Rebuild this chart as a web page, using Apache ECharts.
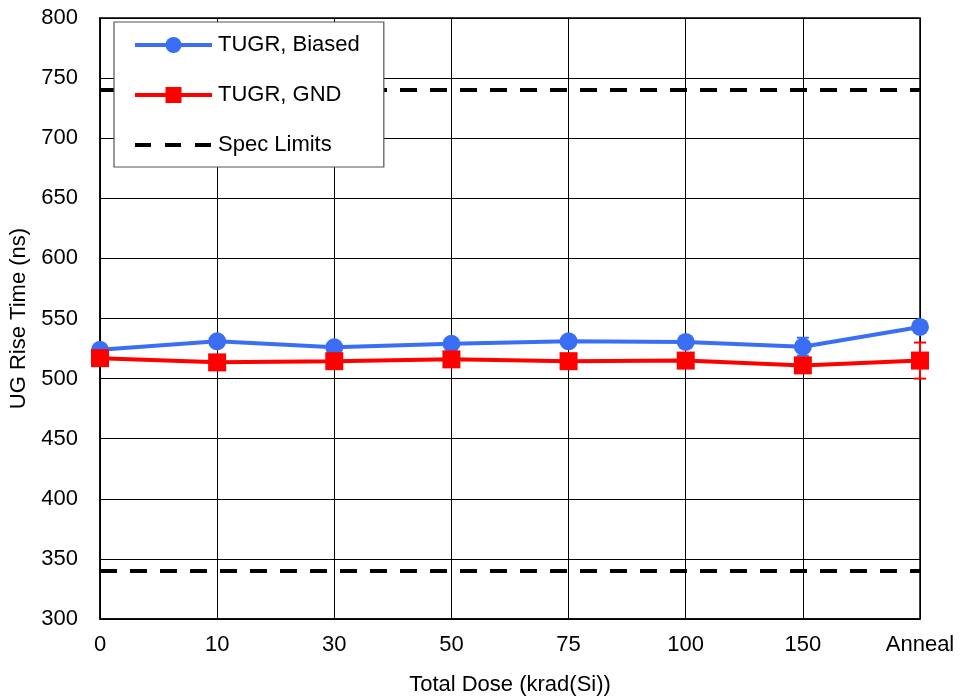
<!DOCTYPE html>
<html><head><meta charset="utf-8">
<script src="https://cdn.jsdelivr.net/npm/echarts@6/dist/echarts.min.js"></script>
<style>html,body{margin:0;padding:0;background:#fff}#c{width:962px;height:699px}</style>
</head><body><div id="c"></div>
<script>
var categories = ['0','10','30','50','75','100','150','Anneal'];
var biased = [524, 531, 526, 529, 531, 530.5, 526.5, 543];
var gnd = [517, 513.5, 514.5, 516, 514.5, 515, 511, 515];
var specUpper = [740,740,740,740,740,740,740,740];
var specLower = [340,340,340,340,340,340,340,340];
var errIndex = [6, 7];
var errLow = [519, 500];
var errHigh = [534, 530];
var errSeriesColor = ['#3a6ff5', '#ff0000'];

var errData = errIndex.map(function(ix, i){ return [ix, errLow[i], errHigh[i], i]; });

var chart = echarts.init(document.getElementById('c'));
var font = 'Liberation Sans, Arial, sans-serif';
chart.setOption({
  animation: false,
  grid: {left: 100, right: 42, top: 18, bottom: 80, show: true, borderColor: '#000', borderWidth: 1.5,
         containLabel: false, outerBoundsMode: 'none'},
  xAxis: {
    type: 'category', data: categories, boundaryGap: false,
    name: 'Total Dose (krad(Si))', nameLocation: 'middle', nameGap: 55,
    nameTextStyle: {fontFamily: font, fontSize: 22, color: '#000'},
    axisLine: {lineStyle: {color: '#000', width: 1.5}},
    axisTick: {show: false},
    axisLabel: {fontFamily: font, fontSize: 22, color: '#000', margin: 15},
    splitLine: {show: true, lineStyle: {color: '#000', width: 1}}
  },
  yAxis: {
    type: 'value', min: 300, max: 800, interval: 50,
    name: 'UG Rise Time (ns)', nameLocation: 'middle', nameGap: 68,
    nameTextStyle: {fontFamily: font, fontSize: 22, color: '#000'},
    axisLine: {show: true, lineStyle: {color: '#000', width: 1.5}},
    axisTick: {show: false},
    axisLabel: {fontFamily: font, fontSize: 22, color: '#000', margin: 22},
    splitLine: {show: true, lineStyle: {color: '#000', width: 1}}
  },
  legend: {
    orient: 'vertical', left: 114, top: 22,
    padding: [12, 24, 11, 19],
    itemGap: 28, itemWidth: 77, itemHeight: 20,
    backgroundColor: '#fff', borderColor: '#555', borderWidth: 1.2,
    lineStyle: {width: 4},
    textStyle: {fontFamily: font, fontSize: 22, color: '#000', padding: [0, 0, 0, 1]},
    data: ['TUGR, Biased', 'TUGR, GND',
      {name: 'Spec Limits', itemStyle: {color: 'rgba(0,0,0,0)', borderWidth: 0, opacity: 0},
       lineStyle: {width: 4, type: [16, 14]}}]
  },
  series: [
    {name: 'Spec Limits', type: 'line', data: specUpper, showSymbol: false, symbol: 'none',
     lineStyle: {color: '#000', width: 4, type: [17, 13]}, itemStyle: {color: '#000'}, z: 3},
    {name: 'Spec Limits', type: 'line', data: specLower, showSymbol: false, symbol: 'none',
     lineStyle: {color: '#000', width: 4, type: [17, 13]}, itemStyle: {color: '#000'}, z: 3},
    {type: 'custom', data: errData, z: 4,
     renderItem: function(params, api){
       var x = api.value(0);
       var lo = api.coord([x, api.value(1)]);
       var hi = api.coord([x, api.value(2)]);
       var c = errSeriesColor[api.value(3)];
       var w = 6;
       var st = {stroke: c, lineWidth: 2};
       return {type: 'group', children: [
         {type: 'line', shape: {x1: lo[0], y1: lo[1], x2: hi[0], y2: hi[1]}, style: st},
         {type: 'line', shape: {x1: lo[0]-w, y1: lo[1], x2: lo[0]+w, y2: lo[1]}, style: st},
         {type: 'line', shape: {x1: hi[0]-w, y1: hi[1], x2: hi[0]+w, y2: hi[1]}, style: st}
       ]};
     }},
    {name: 'TUGR, Biased', type: 'line', data: biased, symbol: 'circle', symbolSize: 18,
     lineStyle: {color: '#3a6ff5', width: 4}, itemStyle: {color: '#3a6ff5'}, z: 5},
    {name: 'TUGR, GND', type: 'line', data: gnd, symbol: 'rect', symbolSize: 18,
     lineStyle: {color: '#ff0000', width: 4}, itemStyle: {color: '#ff0000', borderRadius: 2}, z: 6}
  ]
});
</script></body></html>
